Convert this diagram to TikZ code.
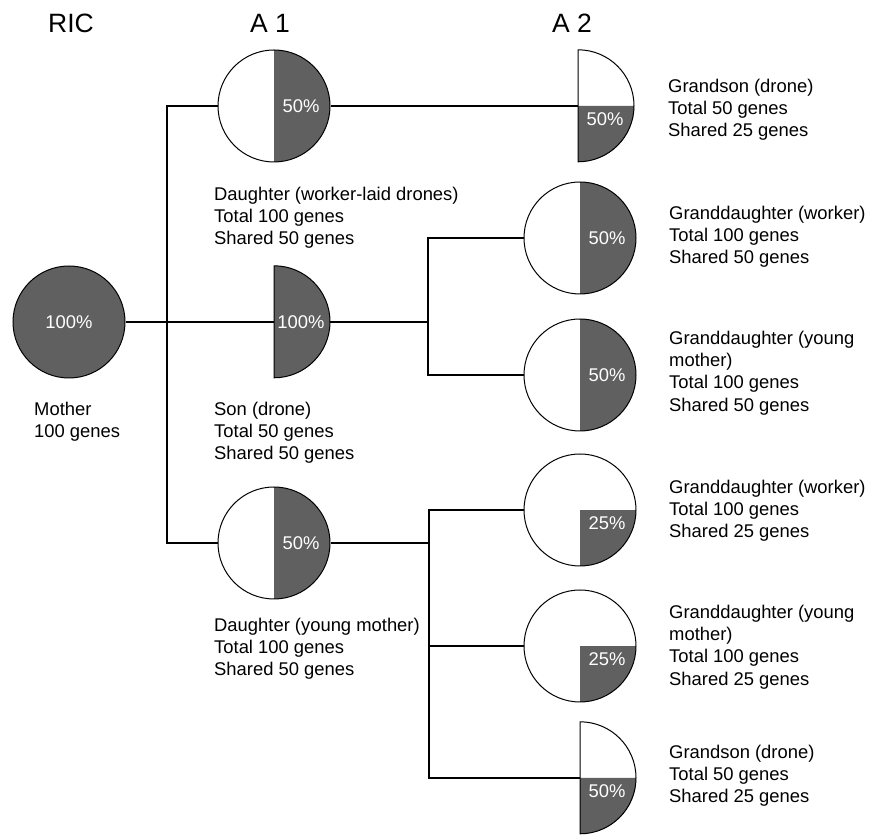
\documentclass[tikz,border=0pt]{standalone}
\usepackage{fontspec}
\setmainfont{Liberation Sans}
\usepackage{xcolor}
\usepackage{tikz}
\usetikzlibrary{positioning}
\definecolor{genegrey}{RGB}{96,96,96}

\begin{document}
\begin{tikzpicture}[x=1pt, y=1pt,
    pie/.style={circle, draw, line width=1pt, minimum size=112pt, inner sep=0pt},
    halffill/.style={pie, path picture={\fill[genegrey] (path picture bounding box.north) rectangle (path picture bounding box.south east);}},
    quarterfill/.style={pie, path picture={\fill[genegrey] (path picture bounding box.center) rectangle (path picture bounding box.south east);}},
    dronebody/.style={circle, minimum size=112pt, inner sep=0pt},
    link/.style={line width=1.6pt},
    info/.style={anchor=north west, align=left, inner sep=0pt, font=\fontsize{18.4}{22.2}\selectfont},
    pct/.style={text=white, inner sep=0pt, font=\fontsize{18.4}{22}\selectfont},
    head/.style={inner sep=0pt, font=\fontsize{26.5}{30}\selectfont}]
    \useasboundingbox (0,0) rectangle (870,837);

    % column heads
    \node[head] (hric) at (71,814) {RIC};
    \node[head] (ha1) at (270,814) {A 1};
    \node[head] (ha2) at (572,814) {A 2};

    % RIC and A 1
    \node[pie, fill=genegrey] (mother) at (69,515) {};
    \node[halffill] (dau1) at (274,731) {};
    \node[dronebody] (son) at (274,515) {};
    \filldraw[fill=genegrey, line width=1pt] (son.north) arc (90:-90:56pt) -- cycle;
    \node[halffill] (dau2) at (274,294) {};

    % A 2
    \node[dronebody] (gson1) at (578,731) {};
    \fill[genegrey] (gson1.center) -- (gson1.east) arc (0:-90:56pt) -- cycle;
    \draw[line width=1pt] (gson1.north) arc (90:-90:56pt) -- cycle;
    \node[halffill] (gdau1) at (580,599) {};
    \node[halffill] (gdau2) at (580,462) {};
    \node[quarterfill] (gdau3) at (580,327) {};
    \node[quarterfill] (gdau4) at (580,191) {};
    \node[dronebody] (gson2) at (580,59) {};
    \fill[genegrey] (gson2.center) -- (gson2.east) arc (0:-90:56pt) -- cycle;
    \draw[line width=1pt] (gson2.north) arc (90:-90:56pt) -- cycle;

    % shares
    \node[pct] (pmother) at (mother) {100\%};
    \node[pct] (pdau1) at ([xshift=27pt]dau1.center) {50\%};
    \node[pct] (pson) at ([xshift=27pt]son.center) {100\%};
    \node[pct] (pdau2) at ([xshift=27pt]dau2.center) {50\%};
    \node[pct] (pgson1) at ([xshift=27pt, yshift=-13pt]gson1.center) {50\%};
    \node[pct] (pgdau1) at ([xshift=27pt]gdau1.center) {50\%};
    \node[pct] (pgdau2) at ([xshift=27pt]gdau2.center) {50\%};
    \node[pct] (pgdau3) at ([xshift=27pt, yshift=-13pt]gdau3.center) {25\%};
    \node[pct] (pgdau4) at ([xshift=27pt, yshift=-13pt]gdau4.center) {25\%};
    \node[pct] (pgson2) at ([xshift=27pt, yshift=-13pt]gson2.center) {50\%};

    % connectors
    \coordinate (j1) at (167,515);
    \coordinate (j2) at (428,515);
    \coordinate (j3) at (429,294);
    \draw[link] (mother.east) -- (son.center);
    \draw[link] (dau1.west) -| (j1) |- (dau2.west);
    \draw[link] (dau1.east) -- (gson1.center);
    \draw[link] (son.east) -- (j2);
    \draw[link] (gdau1.west) -| (j2) |- (gdau2.west);
    \draw[link] (dau2.east) -- (j3);
    \draw[link] (gdau3.west) -| (j3) |- (gson2.center);
    \draw[link] (gdau4.west) -- (gdau4.west -| j3);

    % texts
    \node[info] (tmother) at (34,435) {Mother\\100 genes};
    \node[info] (tdau1) at (214,650) {Daughter (worker-laid drones)\\Total 100 genes\\Shared 50 genes};
    \node[info] (tson) at (214,435) {Son (drone)\\Total 50 genes\\Shared 50 genes};
    \node[info] (tdau2) at (214,219) {Daughter (young mother)\\Total 100 genes\\Shared 50 genes};
    \node[info] (tgson1) at (668,758) {Grandson (drone)\\Total 50 genes\\Shared 25 genes};
    \node[info] (tgdau1) at (669,631) {Granddaughter (worker)\\Total 100 genes\\Shared 50 genes};
    \node[info] (tgdau2) at (669,506) {Granddaughter (young\\mother)\\Total 100 genes\\Shared 50 genes};
    \node[info] (tgdau3) at (669,357) {Granddaughter (worker)\\Total 100 genes\\Shared 25 genes};
    \node[info] (tgdau4) at (669,232) {Granddaughter (young\\mother)\\Total 100 genes\\Shared 25 genes};
    \node[info] (tgson2) at (669,92) {Grandson (drone)\\Total 50 genes\\Shared 25 genes};
\end{tikzpicture}
\end{document}
